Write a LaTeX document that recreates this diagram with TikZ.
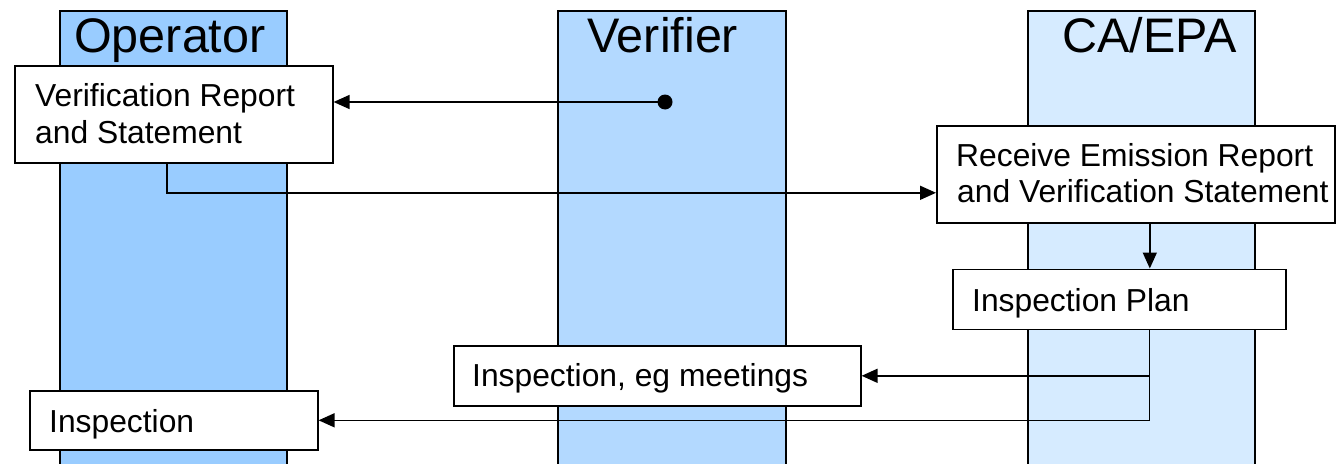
\documentclass[tikz,border=0pt]{standalone}
\usepackage{fontspec}
\setmainfont{Liberation Sans}
\usetikzlibrary{arrows.meta}
\definecolor{opblue}{HTML}{99CCFF}
\definecolor{verblue}{HTML}{B3D9FF}
\definecolor{cablue}{HTML}{D6EBFF}
\begin{document}
\begin{tikzpicture}[x=1pt,y=-1pt,
  lane/.style={draw=black,line width=1.4pt},
  head/.style={anchor=base west,inner sep=0pt,font=\fontsize{48.5}{56}\selectfont},
  box/.style={draw=black,fill=white,line width=1.6pt,anchor=north west,inner sep=0pt},
  txt/.style={anchor=base west,inner sep=0pt,font=\fontsize{31.8}{37}\selectfont},
  arr/.style={line width=1.6pt,-{Triangle[length=16pt,width=14pt]}},
  conn/.style={line width=1.6pt}]
\useasboundingbox (0,0) rectangle (1340,463);
\clip (0,0) rectangle (1340,463);
% lanes
\draw[lane,fill=opblue] (60,11) rectangle (287,480);
\draw[lane,fill=verblue] (558,11) rectangle (786,480);
\draw[lane,fill=cablue] (1028,11) rectangle (1255,480);
\node[head] (hop) at (74,52) {Operator};
\node[head] (hver) at (587,52) {Verifier};
\node[head] (hca) at (1062,52) {CA/EPA};
% boxes
\node[box,minimum width=318pt,minimum height=97pt] (vrs) at (14,65) {};
\node[txt] (vrs1) at (35,106) {Verification Report};
\node[txt] (vrs2) at (35,143) {and Statement};
\node[box,minimum width=398pt,minimum height=97pt] (rer) at (936,125) {};
\node[txt] (rer1) at (956,166) {Receive Emission Report};
\node[txt] (rer2) at (957,202) {and Verification Statement};
\node[box,minimum width=333pt,minimum height=60pt] (ip) at (952,268.5) {};
\node[txt] (ipt) at (972,311.5) {Inspection Plan};
\node[box,minimum width=407pt,minimum height=60pt] (ieg) at (453,345) {};
\node[txt] (iegt) at (472,386.5) {Inspection, eg meetings};
\node[box,minimum width=288pt,minimum height=59pt] (insp) at (29,390) {};
\node[txt] (inspt) at (49,432.5) {Inspection};
% dot
\node[circle,fill=black,minimum size=15pt,inner sep=0pt] (dot) at (665,102) {};
% connectors
\draw[arr] (dot.center) -- (dot.center -| vrs.east);
\draw[arr] ([xshift=-7pt]vrs.south) |- ([yshift=-18.5pt]rer.west);
\draw[arr] ([xshift=14pt]rer.south) -- ([xshift=14pt]rer.south |- ip.north);
\draw[arr] ([xshift=30pt]ip.south) |- (ieg.east);
\draw[arr] ([xshift=30pt]ip.south) |- (insp.east);
\end{tikzpicture}
\end{document}
